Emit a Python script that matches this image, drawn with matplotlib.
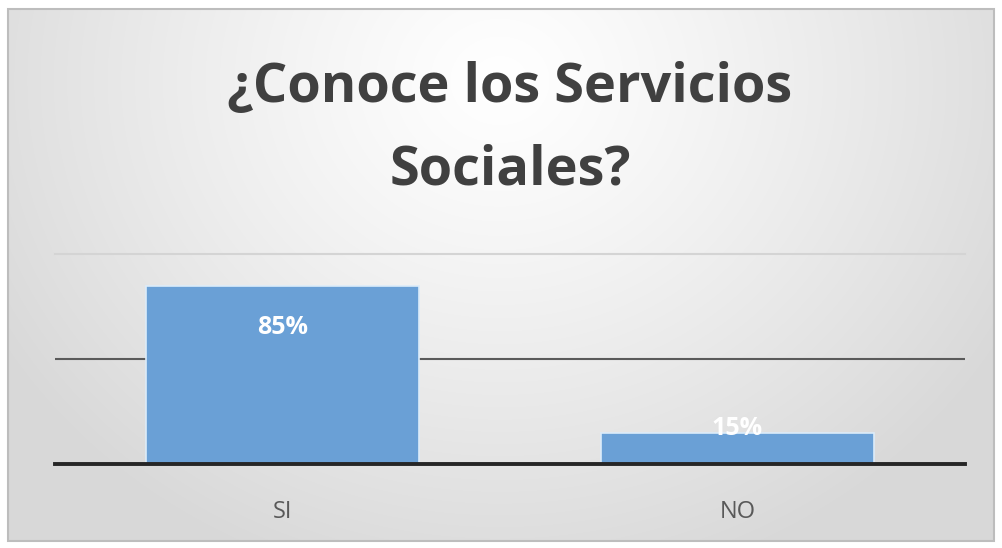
import numpy as np
import matplotlib
matplotlib.use('Agg')
import matplotlib.pyplot as plt
from matplotlib.patches import Rectangle

categories = ['SI', 'NO']
values = [0.85, 0.15]
labels = ['85%', '15%']
title = '¿Conoce los Servicios\nSociales?'

W, H = 1003, 548
fig = plt.figure(figsize=(W / 100, H / 100), dpi=100)
fig.patch.set_facecolor('white')

# background panel with radial gradient
bg = fig.add_axes([0, 0, 1, 1])
bg.set_xlim(0, W)
bg.set_ylim(H, 0)
bg.axis('off')
x0, y0, x1, y1 = 8, 9, 994, 541
xx, yy = np.meshgrid(np.linspace(x0, x1, 400), np.linspace(y0, y1, 220))
r = np.sqrt(((xx - 500) / 580) ** 2 + ((yy - 80) / 520) ** 2)
shade = 1.0 - 0.15 * np.clip(r, 0, 1) ** 1.2
img = np.dstack([shade, shade, shade])
bg.imshow(img, extent=(x0, x1, y1, y0), aspect='auto', interpolation='bilinear')
bg.add_patch(Rectangle((x0, y0), x1 - x0, y1 - y0, fill=False,
                       edgecolor='#bdbdbd', linewidth=1.5))

bg.text(510, 129, title, ha='center', va='center', fontsize=39,
        fontfamily='Open Sans', fontweight='bold', color='#404040',
        linespacing=1.7)

ax = fig.add_axes([55 / W, 84 / H, 910 / W, 210 / H])
ax.patch.set_alpha(0)
x = np.arange(len(categories))
ax.set_xlim(-0.5, len(categories) - 0.5)
ax.set_ylim(0, 1.0)
ax.axhline(1.0, color='#d4d4d4', linewidth=1.5, zorder=1, clip_on=False)
ax.axhline(0.5, color='#5a5a5a', linewidth=1.5, zorder=1)
ax.bar(x, values, width=0.6, color='#6aa0d6', edgecolor='#dcecfa',
       linewidth=1.2, zorder=2)
ax.axhline(0, color='#262626', linewidth=2.8, zorder=3, clip_on=False)

for xi, v, lab in zip(x, values, labels):
    y = v - 0.2 if v > 0.3 else v + 0.02
    ax.text(xi, y, lab, ha='center', va='center', color='white',
            fontsize=18, fontweight='bold', fontfamily='Open Sans', zorder=4)

ax.set_xticks(x)
ax.set_xticklabels(categories, fontsize=17, color='#595959',
                   fontfamily='Open Sans')
ax.tick_params(axis='x', length=0, pad=26)
ax.set_yticks([])
for s in ax.spines.values():
    s.set_visible(False)

fig.savefig('out.png', dpi=100)
